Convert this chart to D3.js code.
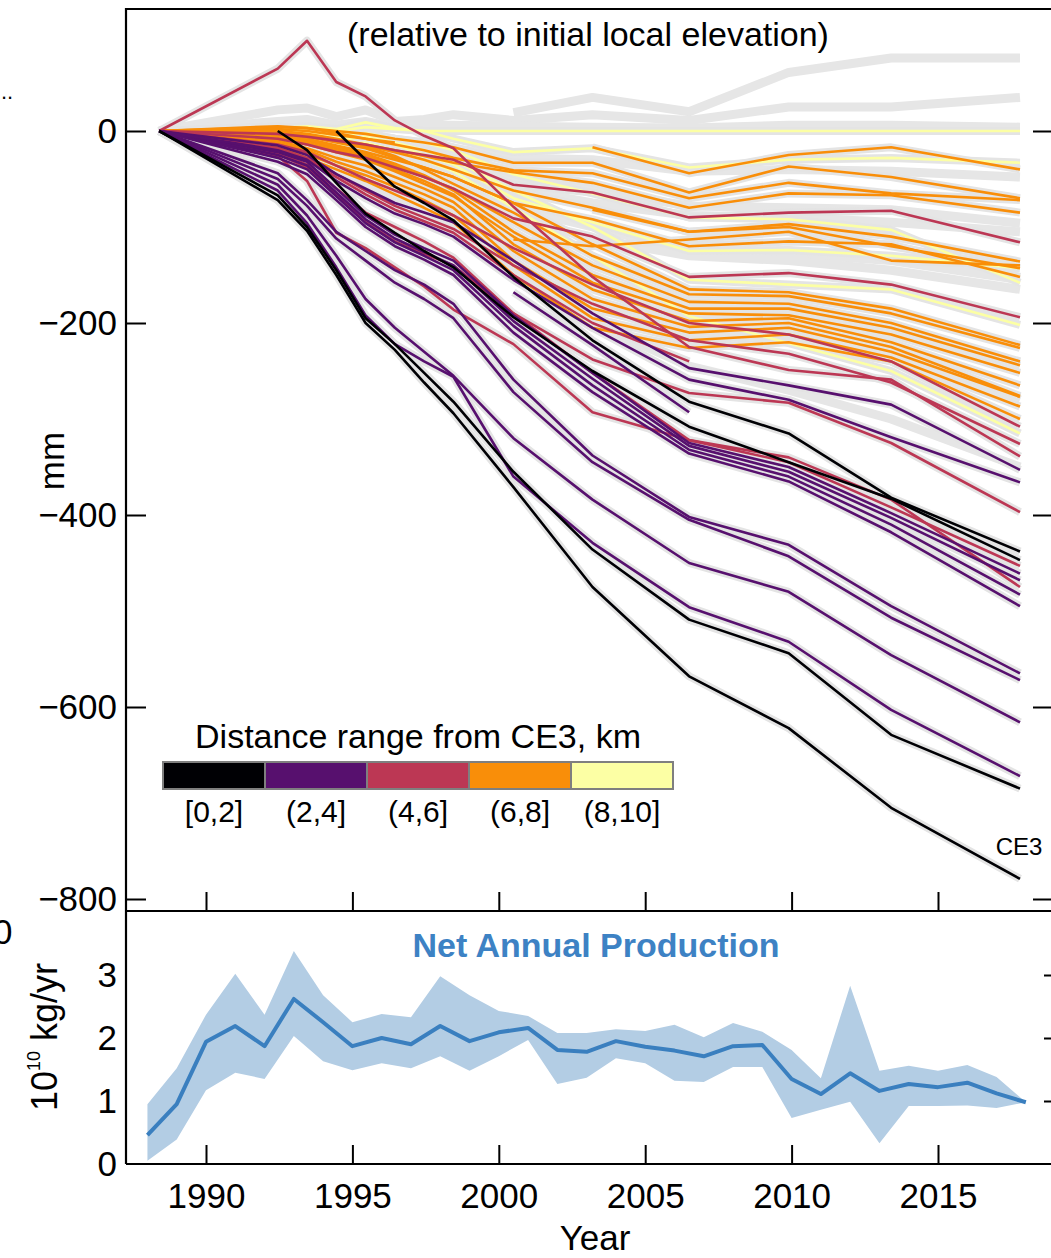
<!DOCTYPE html>
<html><head><meta charset="utf-8">
<script src="https://cdn.jsdelivr.net/npm/d3@7"></script>
<style>body{margin:0;background:#fff} svg{display:block} text{font-family:"Liberation Sans",Arial,Helvetica,sans-serif;fill:#000}</style>
</head><body>
<svg id="c" width="1051" height="1258"></svg>
<script>
// ---------- DATA (top panel: mm relative to initial local elevation) ----------
const dates = [1988.4, 1992.45, 1993.45, 1994.45, 1995.45, 1996.45, 1997.45, 1998.45, 2000.5, 2003.2, 2006.5, 2009.9, 2013.4, 2017.8];
const N = null;

const graySeries = [
  [N,N,N,N,N,N,N,N, 19, 35, 20, 61, 76, 76],
  [0, 22, 24, 15, 22, 10, 12, 17, 11, 17, 11, 25, 25, 35],
  [0, 10, 12, 6, 10, 4, 6, 6, 5, 4, 3, 6, 6, 4],
  [0, -2, -4, -6, -5, -10, -14, -18, -28, -30, -42, -40, -42, -48],
  [0, -4, -8, -12, -10, -18, -24, -30, -50, -62, -78, -80, -82, -96],
  [0, -5, -10, -15, -14, -22, -30, -38, -60, -75, -88, -90, -95, -105],
  [0, -6, -12, -20, -22, -30, -40, -50, -80, -100, -125, -128, -135, -155],
  [0, -8, -14, -24, -28, -36, -46, -58, -90, -112, -130, -135, -145, -165],
  [0, -18, -28, -48, -65, -80, -92, -105, -150, -200, -245, -270, -300, -350],
  [0, -10, -18, -30, -38, -50, -60, -70, -108, -150, -190, -200, -225, -280]
];
const yellowSeries = [
  [0, 2, 3, 0, 4, 2, 0, 0, 0, 0, 0, 0, 0, 0],
  [0, 3, 5, 2, 9, 3, 0, -8, -22, -18, -38, -30, -28, -33],
  [0, 0, -2, -5, -2, -8, -12, -20, -45, -65, -90, -92, -103, -158],
  [0, -2, -5, -8, -6, -12, -20, -30, -62, -100, -155, -160, -165, -202],
  [0, -3, -8, -15, -12, -20, -30, -42, -80, -130, -193, -221, -250, -315],
  [0, -1, -4, -10, -6, -14, -25, -35, -70, -95, -125, -124, -130, -143]
];
const orangeSeries = [
  [N,N,N,N,N,N,N,N,N, -17, -44, -25, -17, -40],
  [0, 5, 3, 0, -3, -8, -12, -17, -33, -33, -64, -37, -48, -70],
  [0, 2, 0, -4, -8, -14, -20, -28, -41, -44, -70, -54, -65, -72],
  [0, 0, -3, -8, -14, -20, -26, -33, -43, -54, -80, -65, -67, -85],
  [N,N,N,N,N,N,N,N,N, -82, -105, -97, -110, -136],
  [N,N,N,N,N,N,N,N, -113, -120, -113, -105, -135, -140],
  [0, -3, -8, -15, -22, -30, -38, -48, -75, -92, -120, -115, -118, -152],
  [0, -2, -5, -10, -15, -22, -30, -40, -62, -80, -105, -100, -120, -143],
  [0, 4, 3, -2, -8, -12, N,N,N,N,N,N,N,N],
  [0, -2, -6, -12, -18, -28, -38, -48, -75, -118, -165, -168, -185, -223],
  [0, 0, -4, -10, -16, -26, -40, -55, -85, -130, -170, -172, -190, -226],
  [0, -5, -10, -18, -26, -36, -48, -60, -95, -140, -178, -180, -200, -240],
  [0, -4, -9, -16, -24, -34, -46, -62, -105, -150, -185, -185, -205, -244],
  [0, -8, -14, -22, -30, -42, -55, -68, -110, -158, -190, -192, -212, -252],
  [0, -6, -12, -20, -28, -40, -52, -66, -118, -165, -198, -195, -220, -265],
  [0, -10, -18, -28, -36, -48, -60, -74, -125, -175, -204, -200, -225, -276],
  [0, -12, -20, -32, -42, -54, -66, -80, -135, -185, -210, -205, -230, -277],
  [0, -14, -24, -36, -46, -58, -72, -88, -140, -195, -218, -212, -236, -287],
  [0, -16, -28, -40, -52, -66, -80, -95, -150, -205, -226, -220, -240, -300]
];
const redSeries = [
  [0, 65, 94, 51, 36, 11, -5, -18, -79, -152, -225, -249, -259, -339],
  [0, -3, -6, -10, -14, -20, -25, -30, -56, -64, -90, -85, -83, -116],
  [0, -8, -14, -22, -28, -38, -48, -60, -91, -110, -152, -148, -160, -194],
  [0, -14, -22, -36, -50, -62, -74, -88, -122, -160, -200, -212, -240, -308],
  [0, -18, -28, -45, -62, -78, -90, -102, -140, -180, -218, -232, -262, -326],
  [0, -24, -38, -66, -95, -115, -128, -140, -190, -238, -273, -283, -325, -397],
  [0, -26, -52, -106, -122, -142, -162, -186, -222, -293, -322, -340, -384, -475],
  [0, -22, -35, -60, -85, -100, -115, -132, -190, -252, -322, -345, -392, -453],
  [0, -18, -30, -48, -66, -82, -94, -106, -150, -200, -240, N, N, N]
];
const purpleSeries = [
  [0, -44, -72, -105, -125, -145, -160, -180, -259, -338, -402, -431, -495, -565],
  [0, -50, -78, -112, -135, -158, -175, -195, -272, -345, -405, -443, -507, -572],
  [0, -56, -88, -130, -175, -205, -230, -255, -320, -384, -450, -480, -546, -616],
  [0, -62, -96, -142, -192, -222, -240, -256, -360, -429, -496, -532, -603, -672],
  [0, -22, -32, -60, -88, -108, -122, -135, -192, -252, -325, -350, -398, -461],
  [0, -25, -36, -64, -92, -112, -126, -140, -198, -258, -328, -355, -403, -468],
  [0, -28, -40, -68, -96, -116, -130, -145, -203, -265, -332, -360, -410, -483],
  [0, -32, -45, -72, -100, -120, -134, -150, -210, -272, -336, -365, -418, -495],
  [0, -15, -25, -45, -60, -75, -85, -95, -135, -190, -247, -265, -285, -353],
  [0, -20, -30, -52, -70, -86, -97, -110, -155, -205, -259, -280, -319, -366],
  [N,N,N,N,N,N,N,N, -168, -223, -293, N, N, N]
];
const blackSeries = [
  [0, -72, -104, -150, -200, -228, -262, -294, -371, -475, -568, -622, -705, -779], // CE3
  [0, -67, -100, -145, -195, -222, -252, -282, -355, -436, -509, -544, -629, -685],
  [N, 0, -20, -54, -86, -106, -125, -142, -194, -250, -308, -345, -383, -447],
  [N, N, N, 0, -30, -58, -75, -93, -152, -218, -282, -315, -382, -438]
];
const legendLabels = ["[0,2]", "(2,4]", "(4,6]", "(6,8]", "(8,10]"];
const legendColors = ["#000004", "#57106e", "#bc3754", "#f98e09", "#fcffa4"];
const topTicks = [0, -200, -400, -600, -800];
const yearTicks = [1990, 1995, 2000, 2005, 2010, 2015];

// ---------- DATA (bottom panel: net annual production, 10^10 kg/yr) ----------
const prodYears = [1988,1989,1990,1991,1992,1993,1994,1995,1996,1997,1998,1999,2000,2001,2002,2003,2004,2005,2006,2007,2008,2009,2010,2011,2012,2013,2014,2015,2016,2017,2018];
const prodMean  = [0.46,0.95,1.94,2.19,1.87,2.62,2.25,1.87,2.0,1.9,2.19,1.95,2.09,2.16,1.81,1.78,1.95,1.86,1.80,1.71,1.87,1.89,1.35,1.11,1.44,1.16,1.27,1.22,1.29,1.12,0.98];
const prodHigh  = [0.95,1.52,2.37,3.02,2.37,3.38,2.68,2.25,2.38,2.33,2.98,2.68,2.43,2.35,2.08,2.08,2.14,2.11,2.21,2.01,2.24,2.10,1.81,1.36,2.83,1.48,1.56,1.48,1.57,1.38,0.98];
const prodLow   = [0.05,0.39,1.17,1.45,1.35,2.03,1.63,1.49,1.60,1.52,1.71,1.48,1.71,1.97,1.27,1.37,1.68,1.60,1.32,1.30,1.54,1.54,0.73,0.86,0.99,0.33,0.92,0.92,0.93,0.89,0.98];
const prodTicks = [0, 1, 2, 3];

// ---------- DRAW ----------
const svg = d3.select("#c");
const L = 126, R = 1052, T = 9, MID = 911, B = 1164;
const x = d3.scaleLinear().domain([1990, 2015]).range([206, 938]);
const yTop = d3.scaleLinear().domain([0, -800]).range([131, 899]);
const yBot = d3.scaleLinear().domain([0, 3]).range([1164, 975]);

svg.append("defs").append("clipPath").attr("id", "clipTop")
  .append("rect").attr("x", L).attr("y", T).attr("width", R - L).attr("height", MID - T);

const pts = s => s.map((v, i) => v === null ? null : [x(dates[i]), yTop(v)]).filter(p => p);
const line = d3.line();
const gTop = svg.append("g").attr("clip-path", "url(#clipTop)");

const colored = [
  [yellowSeries, legendColors[4]],
  [orangeSeries, legendColors[3]],
  [redSeries, legendColors[2]],
  [purpleSeries, legendColors[1]],
  [blackSeries, legendColors[0]]
];
gTop.selectAll("path.g").data(graySeries).join("path")
  .attr("d", s => line(pts(s))).attr("fill", "none")
  .attr("stroke", "#e6e6e6").attr("stroke-width", 9).attr("stroke-linejoin", "round");
colored.forEach(([arr]) => {
  gTop.append("g").selectAll("path").data(arr).join("path")
    .attr("d", s => line(pts(s))).attr("fill", "none")
    .attr("stroke", "#e4e4e4").attr("stroke-width", 8).attr("stroke-linejoin", "round").attr("stroke-linecap", "butt");
});
colored.forEach(([arr, col]) => {
  gTop.append("g").selectAll("path").data(arr).join("path")
    .attr("d", s => line(pts(s))).attr("fill", "none")
    .attr("stroke", col).attr("stroke-width", 2.6).attr("stroke-linejoin", "round");
});

// ---- top axes
const fmt = d3.format("d");
const axL = svg.append("g").attr("transform", `translate(${L},0)`)
  .call(d3.axisLeft(yTop).tickValues(topTicks).tickSize(-20).tickPadding(9).tickFormat(d => d3.format("")(d)));
const axR = svg.append("g").attr("transform", `translate(${R},0)`)
  .call(d3.axisRight(yTop).tickValues(topTicks).tickSize(-19).tickFormat(""));
const axBt = svg.append("g").attr("transform", `translate(0,${MID})`)
  .call(d3.axisBottom(x).tickValues(yearTicks).tickSize(-19).tickFormat(""));

// ---- bottom panel
const gBot = svg.append("g");
const area = d3.area().x((d, i) => x(prodYears[i])).y0((d, i) => yBot(prodLow[i])).y1((d, i) => yBot(prodHigh[i]));
gBot.append("path").attr("d", area(prodYears)).attr("fill", "#b3cde4");
gBot.append("path").attr("d", d3.line().x((d, i) => x(prodYears[i])).y((d, i) => yBot(d))(prodMean))
  .attr("fill", "none").attr("stroke", "#3a7fbf").attr("stroke-width", 4).attr("stroke-linejoin", "round");

const bL = svg.append("g").attr("transform", `translate(${L},0)`)
  .call(d3.axisLeft(yBot).tickValues(prodTicks).tickSize(0).tickPadding(9).tickFormat(fmt));
const bR = svg.append("g").attr("transform", `translate(${R},0)`)
  .call(d3.axisRight(yBot).tickValues([1, 2, 3]).tickSize(-8).tickFormat(""));
const bB = svg.append("g").attr("transform", `translate(0,${B})`)
  .call(d3.axisBottom(x).tickValues(yearTicks).tickSize(-19).tickPadding(19).tickFormat(fmt));

[axL, axR, axBt, bL, bR, bB].forEach(g => {
  g.select(".domain").remove();
  g.selectAll(".tick line").attr("stroke", "#000").attr("stroke-width", 2);
  g.selectAll(".tick text").attr("font-size", 35).attr("fill", "#000")
    .style("font-family", '"Liberation Sans",Arial,sans-serif');
});

// ---- frame
const frame = svg.append("g").attr("stroke", "#000").attr("stroke-width", 2.2).attr("fill", "none");
frame.append("path").attr("d", `M${L},${B}V${T}H${R + 5}`);
frame.append("path").attr("d", `M${L},${MID}H${R + 5}`);
frame.append("path").attr("d", `M${L},${B}H${R + 5}`);

// ---- legend
const lg = svg.append("g");
lg.append("text").attr("x", 418).attr("y", 748).attr("text-anchor", "middle").attr("font-size", 34)
  .text("Distance range from CE3, km");
lg.selectAll("rect").data(legendColors).join("rect")
  .attr("x", (d, i) => 163 + i * 102).attr("y", 762).attr("width", 102).attr("height", 27)
  .attr("fill", d => d).attr("stroke", "#7f7f7f").attr("stroke-width", 2);
lg.selectAll("text.l").data(legendLabels).join("text").attr("class", "l")
  .attr("x", (d, i) => 214 + i * 102).attr("y", 822).attr("text-anchor", "middle").attr("font-size", 30)
  .text(d => d);

// ---- texts
svg.append("text").attr("x", 588).attr("y", 46).attr("text-anchor", "middle").attr("font-size", 34)
  .text("(relative to initial local elevation)");
svg.append("text").attr("x", 1019).attr("y", 855).attr("text-anchor", "middle").attr("font-size", 24).text("CE3");
svg.append("text").attr("x", 596).attr("y", 957).attr("text-anchor", "middle").attr("font-size", 34)
  .attr("font-weight", "bold").style("fill", "#3d82c4").text("Net Annual Production");
svg.append("text").attr("x", 595).attr("y", 1250).attr("text-anchor", "middle").attr("font-size", 35).text("Year");
svg.append("text").attr("transform", "translate(64,461) rotate(-90)").attr("text-anchor", "middle")
  .attr("font-size", 35).text("mm");
const yl = svg.append("text").attr("transform", "translate(57,1037) rotate(-90)").attr("text-anchor", "middle")
  .attr("font-size", 36);
yl.append("tspan").text("10");
yl.append("tspan").attr("font-size", 18).attr("dy", -17).text("10");
yl.append("tspan").attr("dy", 17).text(" kg/yr");
svg.append("text").attr("x", 1).attr("y", 99).attr("font-size", 22).text("..");
svg.append("text").attr("x", -7).attr("y", 944).attr("font-size", 35).text("0");
</script>
</body></html>
